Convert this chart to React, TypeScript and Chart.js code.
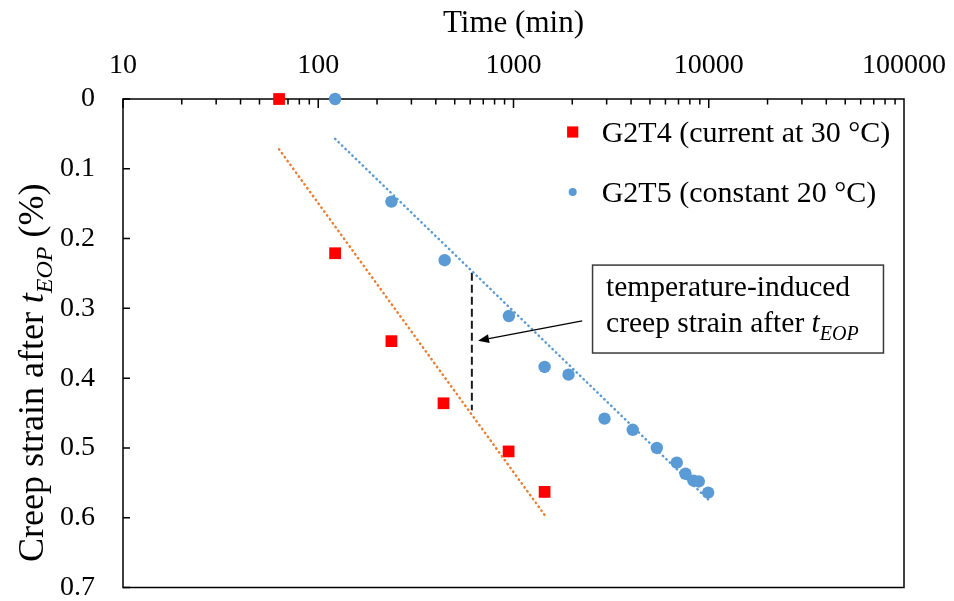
import { useEffect, useRef } from "react";
import { Chart, registerables } from "chart.js";

Chart.register(...registerables);

// Measured series: elapsed time (min) and creep strain after t_EOP (%)
const g2t4Time = [63, 122, 237, 438, 944, 1443];
const g2t4Strain = [0, 0.221, 0.347, 0.436, 0.505, 0.563];

const g2t5Time = [122, 237, 444, 947, 1443, 1914, 2925, 4080, 5420, 6860, 7600, 8350, 8890, 9930];
const g2t5Strain = [0, 0.147, 0.231, 0.311, 0.384, 0.395, 0.458, 0.474, 0.5, 0.521, 0.537, 0.547, 0.548, 0.564];

// Logarithmic trend lines (end points of each fit)
const g2t4TrendTime = [63, 1443];
const g2t4TrendStrain = [0.072, 0.596];
const g2t5TrendTime = [122, 9930];
const g2t5TrendStrain = [0.057, 0.574];

// Vertical gap between the two trends
const gapTime = [612, 612];
const gapStrain = [0.249, 0.446];

// Axis ticks
const timeTicks = [10, 100, 1000, 10000, 100000];
const strainTicks = [0, 0.1, 0.2, 0.3, 0.4, 0.5, 0.6, 0.7];

const g2t4Label = "G2T4 (current at 30 °C)";
const g2t5Label = "G2T5 (constant 20 °C)";
const calloutLines = ["temperature-induced", "creep strain after "];

// Callout box and arrow, in data units
const callout = {
  left: 2540,
  right: 78500,
  top: 0.238,
  bottom: 0.364,
  tailTime: 2249,
  tailStrain: 0.318,
  tipTime: 658,
  tipStrain: 0.3463,
};

const SERIF = '"Liberation Serif", "Times New Roman", serif';
const RED = "#FF0000";
const BLUE = "#5B9BD5";
const ORANGE = "#ED7D31";

const pts = (xs: number[], ys: number[]) => xs.map((t, i) => ({ x: t, y: ys[i] }));

// Draw "... t_EOP ..." text: regular lead, italic t, italic subscript, regular tail
function drawTEop(
  ctx: CanvasRenderingContext2D,
  x: number,
  y: number,
  lead: string,
  tail: string,
  size: number,
  sub: number,
  drop: number
) {
  ctx.font = `${size}px ${SERIF}`;
  ctx.fillText(lead, x, y);
  x += ctx.measureText(lead).width;
  ctx.font = `italic ${size}px ${SERIF}`;
  ctx.fillText("t", x, y);
  x += ctx.measureText("t").width;
  ctx.font = `italic ${sub}px ${SERIF}`;
  ctx.fillText("EOP", x, y + drop);
  x += ctx.measureText("EOP").width;
  if (tail) {
    ctx.font = `${size}px ${SERIF}`;
    ctx.fillText(tail, x, y);
  }
}

const decorations = {
  id: "decorations",
  beforeDatasetsDraw(chart: any) {
    const { ctx, chartArea: a, scales } = chart;
    const x = scales.x;
    const y = scales.y;
    ctx.save();
    ctx.strokeStyle = "#000";
    ctx.lineWidth = 1.5;
    ctx.strokeRect(a.left, a.top, a.right - a.left, a.bottom - a.top);
    ctx.beginPath();
    for (let d = 10; d < 100000; d *= 10) {
      for (let k = 1; k < 10; k++) {
        const px = x.getPixelForValue(d * k);
        const len = k === 1 ? 9 : 5.5;
        ctx.moveTo(px, a.top);
        ctx.lineTo(px, a.top + len);
      }
    }
    for (const v of strainTicks) {
      const py = y.getPixelForValue(v);
      ctx.moveTo(a.left, py);
      ctx.lineTo(a.left + 7, py);
    }
    ctx.stroke();
    ctx.restore();
  },
  afterDatasetsDraw(chart: any) {
    const { ctx, scales } = chart;
    const x = scales.x;
    const y = scales.y;
    ctx.save();
    ctx.fillStyle = "#000";
    ctx.textBaseline = "alphabetic";
    ctx.textAlign = "left";

    // Legend
    const ds = chart.data.datasets;
    ctx.fillStyle = RED;
    ctx.fillRect(572.7 - 5.6, 132 - 5.6, 11.2, 11.2);
    ctx.fillStyle = BLUE;
    ctx.beginPath();
    ctx.arc(572.7, 192, 4, 0, Math.PI * 2);
    ctx.fill();
    ctx.fillStyle = "#000";
    ctx.font = `30px ${SERIF}`;
    ctx.fillText(ds[3].label, 601.7, 142.3);
    ctx.fillText(ds[4].label, 601.7, 202.3);

    // Callout box
    const bl = x.getPixelForValue(callout.left);
    const br = x.getPixelForValue(callout.right);
    const bt = y.getPixelForValue(callout.top);
    const bb = y.getPixelForValue(callout.bottom);
    ctx.fillStyle = "#fff";
    ctx.fillRect(bl, bt, br - bl, bb - bt);
    ctx.strokeStyle = "#3a3a3a";
    ctx.lineWidth = 1.5;
    ctx.strokeRect(bl, bt, br - bl, bb - bt);
    ctx.fillStyle = "#000";
    ctx.font = `29.5px ${SERIF}`;
    ctx.fillText(calloutLines[0], bl + 13.5, bt + 30.5);
    drawTEop(ctx, bl + 13.5, bt + 66.7, calloutLines[1], "", 29.5, 20, 8);

    // Arrow
    const tx = x.getPixelForValue(callout.tailTime);
    const ty = y.getPixelForValue(callout.tailStrain);
    const hx = x.getPixelForValue(callout.tipTime);
    const hy = y.getPixelForValue(callout.tipStrain);
    const ang = Math.atan2(hy - ty, hx - tx);
    const headLen = 11;
    const headHalf = 4.5;
    const bx = hx - headLen * Math.cos(ang);
    const by = hy - headLen * Math.sin(ang);
    ctx.strokeStyle = "#000";
    ctx.lineWidth = 1.3;
    ctx.beginPath();
    ctx.moveTo(tx, ty);
    ctx.lineTo(bx, by);
    ctx.stroke();
    ctx.beginPath();
    ctx.moveTo(hx, hy);
    ctx.lineTo(bx + headHalf * Math.sin(ang), by - headHalf * Math.cos(ang));
    ctx.lineTo(bx - headHalf * Math.sin(ang), by + headHalf * Math.cos(ang));
    ctx.closePath();
    ctx.fill();

    // Y axis title (rotated, with italic subscript)
    ctx.translate(43, 562);
    ctx.rotate(-Math.PI / 2);
    drawTEop(ctx, 0, 0, "Creep strain after ", " (%)", 36, 24, 9);
    ctx.restore();
  },
};

export default function App() {
  const ref = useRef<HTMLCanvasElement>(null);

  useEffect(() => {
    const canvas = ref.current;
    if (!canvas) return;
    const dotted = {
      showLine: true,
      borderWidth: 2.5,
      borderDash: [0.4, 4.4],
      borderCapStyle: "round",
      pointRadius: 0,
      clip: false,
    };
    const chart = new Chart(canvas, {
      type: "scatter",
      data: {
        datasets: [
          {
            ...dotted,
            label: "G2T4 trend",
            data: pts(g2t4TrendTime, g2t4TrendStrain),
            borderColor: ORANGE,
          },
          {
            ...dotted,
            label: "G2T5 trend",
            data: pts(g2t5TrendTime, g2t5TrendStrain),
            borderColor: BLUE,
          },
          {
            label: "gap",
            data: pts(gapTime, gapStrain),
            showLine: true,
            borderColor: "#1a1a1a",
            borderWidth: 2,
            borderDash: [8, 4],
            pointRadius: 0,
          },
          {
            label: g2t4Label,
            data: pts(g2t4Time, g2t4Strain),
            pointStyle: "rect",
            pointRadius: 8.3,
            backgroundColor: RED,
            borderWidth: 0,
            clip: false,
          },
          {
            label: g2t5Label,
            data: pts(g2t5Time, g2t5Strain),
            pointStyle: "circle",
            pointRadius: 6.2,
            backgroundColor: BLUE,
            borderWidth: 0,
            clip: false,
          },
        ] as any,
      },
      options: {
        responsive: false,
        animation: false,
        events: [],
        layout: { padding: { left: 0, top: 0, right: 50, bottom: 13.5 } },
        plugins: { legend: { display: false }, tooltip: { enabled: false } },
        scales: {
          x: {
            type: "logarithmic",
            position: "top",
            min: 10,
            max: 100000,
            grid: { display: false, drawTicks: false },
            border: { display: false },
            ticks: {
              color: "#000",
              font: { family: SERIF, size: 28 },
              padding: 17,
              autoSkip: false,
              maxRotation: 0,
              callback: (v: any) => String(v),
            },
            title: {
              display: true,
              text: "Time (min)",
              color: "#000",
              font: { family: SERIF, size: 31 },
              padding: { top: 5, bottom: 0 },
            },
            afterBuildTicks: (s: any) => {
              s.ticks = timeTicks.map((v) => ({ value: v, major: true }));
            },
            afterFit: (s: any) => {
              s.height = 99;
              s.paddingLeft = 0;
              s.paddingRight = 0;
            },
          },
          y: {
            type: "linear",
            reverse: true,
            min: 0,
            max: 0.7,
            grid: { display: false, drawTicks: false },
            border: { display: false },
            ticks: {
              color: "#000",
              font: { family: SERIF, size: 28 },
              padding: 28,
              callback: (v: any) => String(v),
            },
            afterBuildTicks: (s: any) => {
              s.ticks = strainTicks.map((v) => ({ value: v }));
            },
            afterFit: (s: any) => {
              s.width = 123;
              s.paddingTop = 0;
              s.paddingBottom = 0;
            },
          },
        } as any,
      },
      plugins: [decorations],
    });
    return () => chart.destroy();
  }, []);

  return (
    <div style={{ position: "fixed", left: 0, top: 0, width: 954, height: 601, background: "#fff" }}>
      <canvas ref={ref} width={954} height={601} style={{ display: "block", width: 954, height: 601 }} />
    </div>
  );
}
